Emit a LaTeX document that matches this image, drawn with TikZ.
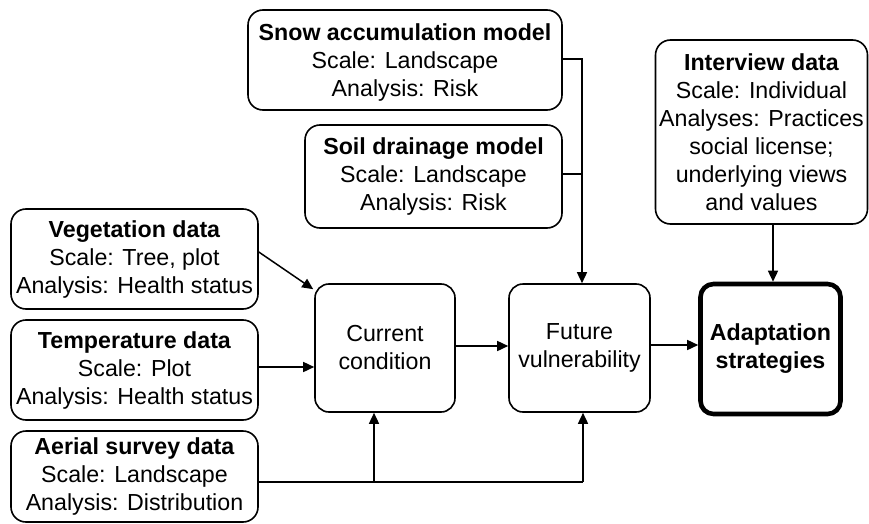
\documentclass[tikz,border=0pt]{standalone}
\usepackage{fontspec}
\setmainfont{Liberation Sans}
\usetikzlibrary{arrows.meta,calc}

\tikzset{
  box/.style={draw, line width=1.6pt, rounded corners=15pt, inner sep=0pt,
    align=center, font=\fontsize{23.2}{28}\selectfont},
  stage/.style={box, rounded corners=14pt},
  goal/.style={box, line width=4.6pt, rounded corners=13pt, font=\fontsize{23.2}{28}\selectfont\bfseries},
  link/.style={line width=1.5pt},
  arr/.style={link, -{Triangle[length=11pt,width=10pt]}},
}

\begin{document}
\begin{tikzpicture}[x=1pt,y=-1pt]
  \fill[white] (0,0) rectangle (869,524);
  \useasboundingbox (0,0) rectangle (869,524);

  % input models and data sources
  \node[box, minimum width=314pt, minimum height=100pt] (snow) at (405,60) {};
  \node[align=center, font=\fontsize{23.2}{28}\selectfont] at (405,63)
    {\textbf{Snow accumulation model}\\Scale: Landscape\\Analysis: Risk};
  \node[box, minimum width=257pt, minimum height=103pt] (soil) at (433.5,176.5)
    {\textbf{Soil drainage model}\\Scale: Landscape\\Analysis: Risk};
  \node[box, minimum width=212pt, minimum height=184pt] (intv) at (761.5,132)
    {\textbf{Interview data}\\Scale: Individual\\Analyses: Practices\\social license;\\underlying views\\and values};
  \node[box, minimum width=247pt, minimum height=100pt] (veg) at (134.5,259)
    {\textbf{Vegetation data}\\Scale: Tree, plot\\Analysis: Health status};
  \node[box, minimum width=247pt, minimum height=100pt] (temp) at (134.5,370)
    {\textbf{Temperature data}\\Scale: Plot\\Analysis: Health status};
  \node[box, minimum width=247pt, minimum height=91pt] (aer) at (134.5,476.5)
    {\textbf{Aerial survey data}\\Scale: Landscape\\Analysis: Distribution};

  % assessment stages
  \node[stage, minimum width=140pt, minimum height=128pt] (cur) at (385,348)
    {Current\\condition};
  \node[stage, minimum width=141pt, minimum height=128pt] (fut) at (579.5,348)
    {Future\\vulnerability};
  \node[goal, minimum width=140pt, minimum height=130pt] (adp) at (770.5,349)
    {Adaptation\\strategies};

  % inputs to current condition
  \draw[arr] ([yshift=7pt]veg.east) -- ([shift={(-1pt,-6pt)}]cur.north west);
  \draw[arr] ([yshift=3pt]temp.east) -- ([yshift=3pt]temp.east -| cur.west);

  % aerial survey feeds both stages
  \coordinate (aj) at ([yshift=-5.5pt]aer.east);
  \coordinate (cb) at ([xshift=-11pt]cur.south);
  \coordinate (fb) at ([xshift=3.5pt]fut.south);
  \draw[link] (aj) -- (aj -| fb);
  \draw[arr] (aj -| fb) -- (fb);
  \draw[arr] (aj -| cb) -- (cb);

  % models feed future vulnerability
  \coordinate (fn) at ([xshift=2.5pt]fut.north);
  \draw[arr] ([yshift=1pt]snow.east) -| (fn);
  \draw[link] ([yshift=2.5pt]soil.east) -- ([yshift=2.5pt]soil.east -| fn);

  % main chain
  \draw[arr] ([yshift=2pt]cur.east) -- ([yshift=2pt]fut.west);
  \draw[arr] ([yshift=3pt]fut.east) -- ([yshift=3pt]fut.east -| adp.west);
  \draw[arr] ([xshift=2.5pt]adp.north |- intv.south) -- ([xshift=2.5pt]adp.north);
\end{tikzpicture}
\end{document}
